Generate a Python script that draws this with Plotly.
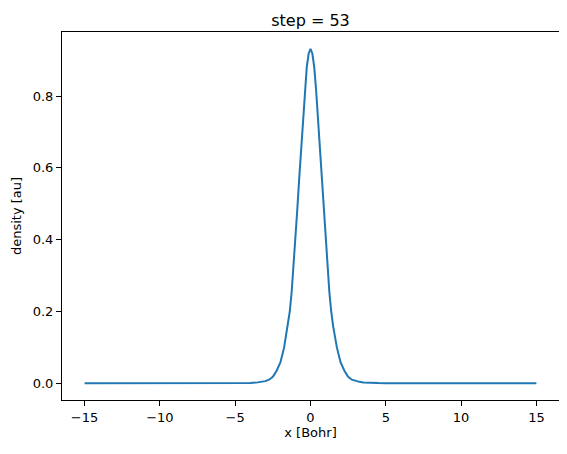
import plotly.graph_objects as go

# density (symmetric around x = 0)
x_bohr = [-15, -10, -8, -6, -5, -4.5, -4, -3.5, -3.25, -3, -2.75, -2.5, -2.25, -2, -1.75,
          -1.5, -1.375, -1.25, -1.125, -1, -0.875, -0.75, -0.625, -0.5, -0.375, -0.25, -0.125,
          0, 0.125, 0.25, 0.375, 0.5, 0.625, 0.75, 0.875, 1, 1.125, 1.25, 1.375, 1.5, 1.75,
          2, 2.25, 2.5, 2.75, 3, 3.25, 3.5, 4, 4.5, 5, 6, 8, 10, 15]
density = [0.0, 0.0, 0.0, 0.0001, 0.0002, 0.0005, 0.001, 0.0025, 0.004, 0.006, 0.010, 0.018,
           0.035, 0.058, 0.10, 0.16, 0.20, 0.255, 0.325, 0.40, 0.485, 0.57, 0.645, 0.735,
           0.815, 0.88, 0.918, 0.932, 0.918, 0.88, 0.815, 0.735, 0.645, 0.57, 0.485, 0.40,
           0.325, 0.255, 0.20, 0.16, 0.10, 0.058, 0.035, 0.018, 0.010, 0.006, 0.004, 0.0025,
           0.001, 0.0005, 0.0002, 0.0001, 0.0, 0.0, 0.0]

x_ticks = [-15, -10, -5, 0, 5, 10, 15]
y_ticks = [0.0, 0.2, 0.4, 0.6, 0.8]

fig = go.Figure(go.Scatter(
    x=x_bohr,
    y=density,
    mode="lines",
    line=dict(color="#1f77b4", width=2),
))

axis_style = dict(
    showline=True, linecolor="black", linewidth=1, mirror=True,
    ticks="outside", ticklen=5, tickcolor="black", tickwidth=1,
    showgrid=False, zeroline=False,
    tickfont=dict(size=13, color="black"),
)

# the page puts the figure 8px in from the top-left corner
fig.update_layout(
    width=559, height=446,
    margin=dict(l=54, r=8, t=24, b=54),
    plot_bgcolor="white", paper_bgcolor="white",
    font=dict(family="DejaVu Sans", color="black"),
    showlegend=False,
    title=dict(text="step = 53", x=0.5, xanchor="center", xref="paper",
               y=1, yref="paper", yanchor="bottom", pad=dict(b=6),
               font=dict(size=16, color="black")),
    xaxis=dict(range=[-16.5, 16.5], tickvals=x_ticks,
               title=dict(text="x [Bohr]", font=dict(size=13), standoff=4),
               **axis_style),
    yaxis=dict(range=[-0.0466, 0.9786], tickvals=y_ticks, tickformat=".1f",
               title=dict(text="density [au]", font=dict(size=13), standoff=8),
               **axis_style),
)

fig.write_html("out.html")
